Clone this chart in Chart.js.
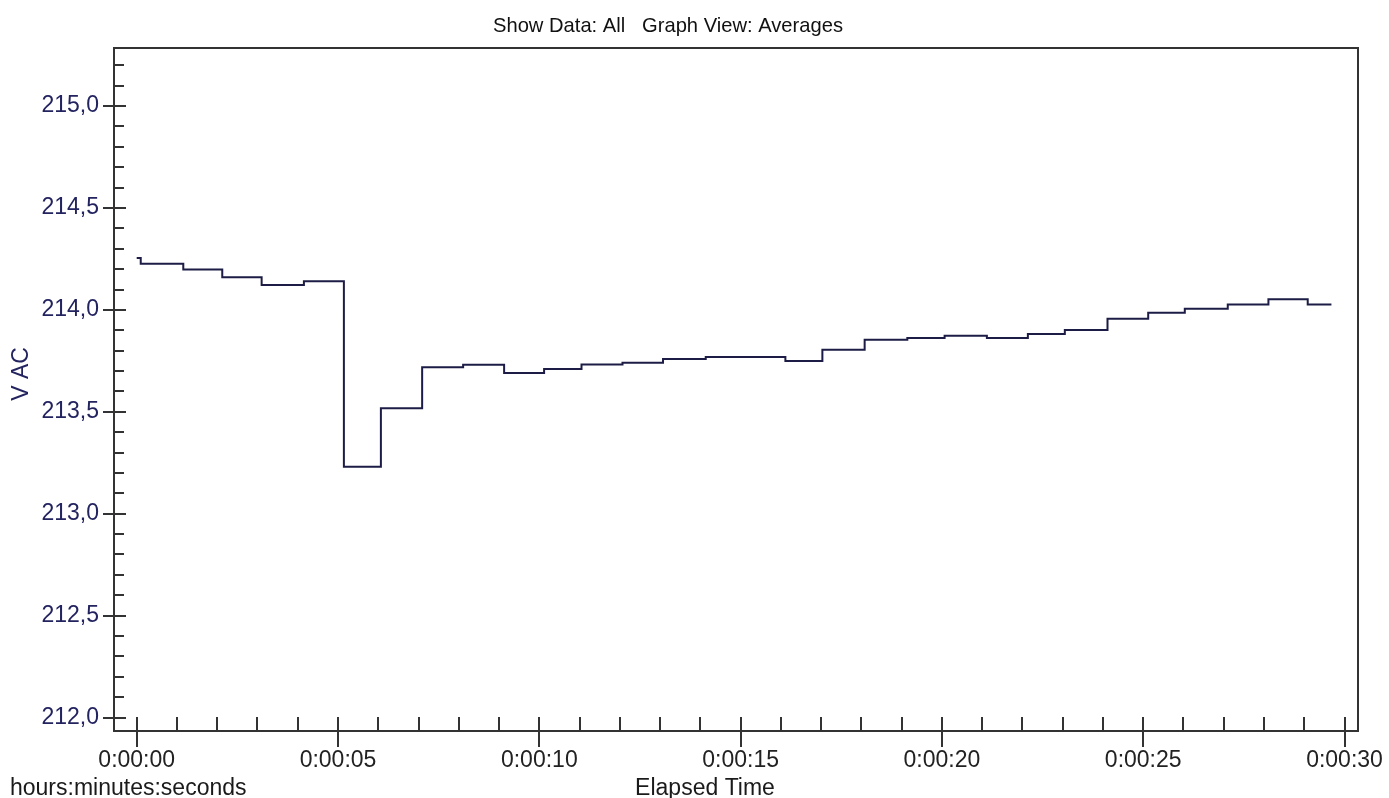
<!DOCTYPE html>
<html><head><meta charset="utf-8">
<script src="https://cdn.jsdelivr.net/npm/chart.js@4/dist/chart.umd.min.js"></script>
<style>html,body{margin:0;padding:0;background:#fff;overflow:hidden}#wrap{position:absolute;left:0;top:0;width:1389px;height:798px}</style>
</head><body><div id="wrap"><canvas id="c"></canvas></div>
<script>
const chartTitle = 'Show Data: All   Graph View: Averages';
const xAxisTitle = 'Elapsed Time';
const xUnitsNote = 'hours:minutes:seconds';
const yAxisTitle = 'V AC';

// start time (s) of each averaged step and its value (V AC)
const stepTimes = [0, 0.10, 1.157, 2.125, 3.103, 4.153, 5.146, 6.065, 7.09, 8.108, 9.126, 10.119, 11.048, 12.066, 13.073, 14.134, 16.112, 17.031, 18.081, 19.141, 20.067, 21.117, 22.135, 23.053, 24.113, 25.124, 26.033, 27.10, 28.11, 29.086, 29.675];
const stepVolts = [214.255, 214.227, 214.198, 214.160, 214.122, 214.140, 213.231, 213.518, 213.719, 213.731, 213.691, 213.710, 213.732, 213.741, 213.759, 213.769, 213.749, 213.804, 213.854, 213.862, 213.873, 213.862, 213.882, 213.901, 213.957, 213.986, 214.006, 214.026, 214.052, 214.026, 214.026];

const yMajorTicks = [212.0, 212.5, 213.0, 213.5, 214.0, 214.5, 215.0];
const xMajorTicks = [0, 5, 10, 15, 20, 25, 30];
const yRange = [211.934, 215.285];
const xRange = [-0.564, 30.335];
const yMinorStep = 0.1;
const xMinorStep = 1;

const FONT = '"Liberation Sans", Arial, Helvetica, sans-serif';
const points = stepTimes.map((t, i) => ({x: t, y: stepVolts[i]}));

function fmtTime(s) {
  const h = Math.floor(s / 3600), m = Math.floor((s % 3600) / 60), sec = Math.round(s % 60);
  return h + ':' + String(m).padStart(2, '0') + ':' + String(sec).padStart(2, '0');
}

const decor = {
  id: 'decor',
  afterDraw(chart) {
    const {ctx, chartArea: a, scales: {x, y}} = chart;
    ctx.save();
    ctx.strokeStyle = '#333';
    ctx.lineWidth = 2;
    ctx.strokeRect(a.left, a.top, a.right - a.left, a.bottom - a.top);
    ctx.beginPath();
    for (let v = yMajorTicks[0]; v <= yRange[1] + 1e-9; v += yMinorStep) {
      const py = Math.round(y.getPixelForValue(v));
      const major = yMajorTicks.some(m => Math.abs(m - v) < 1e-6);
      ctx.moveTo(major ? a.left - 11 : a.left, py);
      ctx.lineTo(major ? a.left + 12 : a.left + 10, py);
    }
    for (let t = xMajorTicks[0]; t <= xRange[1] + 1e-9; t += xMinorStep) {
      const px = Math.round(x.getPixelForValue(t));
      const major = xMajorTicks.includes(t);
      ctx.moveTo(px, a.bottom - 14);
      ctx.lineTo(px, major ? a.bottom + 16 : a.bottom);
    }
    ctx.stroke();

    ctx.textBaseline = 'alphabetic';
    ctx.font = '21px ' + FONT;
    ctx.fillStyle = '#111';
    const w = ctx.measureText(chartTitle).width;
    ctx.save();
    ctx.translate(493, 32);
    ctx.scale(350 / w, 1);
    ctx.textAlign = 'left';
    ctx.fillText(chartTitle, 0, 0);
    ctx.restore();

    ctx.font = '23px ' + FONT;
    ctx.fillStyle = '#1a1a1a';
    ctx.textAlign = 'left';
    ctx.fillText(xUnitsNote, 10, 795);
    ctx.textAlign = 'center';
    ctx.fillText(xAxisTitle, 705, 795);

    ctx.save();
    ctx.fillStyle = '#23235f';
    ctx.translate(22, 374);
    ctx.rotate(-Math.PI / 2);
    ctx.textAlign = 'center';
    ctx.textBaseline = 'middle';
    ctx.fillText(yAxisTitle, 0, 0);
    ctx.restore();
    ctx.restore();
  }
};

new Chart(document.getElementById('c'), {
  type: 'line',
  data: {
    datasets: [{
      data: points,
      stepped: true,
      borderColor: '#1c1c46',
      borderWidth: 2,
      pointRadius: 0,
      fill: false
    }]
  },
  options: {
    responsive: true,
    maintainAspectRatio: false,
    animation: false,
    devicePixelRatio: 1,
    layout: {padding: {left: 0, top: 48, right: 31, bottom: 0}},
    plugins: {legend: {display: false}, tooltip: {enabled: false}, title: {display: false}},
    scales: {
      x: {
        type: 'linear',
        position: 'bottom',
        min: xRange[0],
        max: xRange[1],
        afterBuildTicks: s => { s.ticks = xMajorTicks.map(v => ({value: v})); },
        afterFit: s => { s.height = 67; s.paddingLeft = 0; s.paddingRight = 0; },
        grid: {display: false, drawTicks: false},
        border: {display: false},
        ticks: {
          callback: v => fmtTime(v),
          font: {family: FONT, size: 23},
          color: '#222',
          padding: 16,
          maxRotation: 0,
          autoSkip: false
        }
      },
      y: {
        type: 'linear',
        min: yRange[0],
        max: yRange[1],
        afterBuildTicks: s => { s.ticks = yMajorTicks.map(v => ({value: v})); },
        afterFit: s => { s.width = 114; s.paddingTop = 0; s.paddingBottom = 0; },
        grid: {display: false, drawTicks: false},
        border: {display: false},
        ticks: {
          callback: v => v.toFixed(1).replace('.', ','),
          font: {family: FONT, size: 23},
          color: '#23235f',
          padding: 15
        }
      }
    }
  },
  plugins: [decor]
});
</script>
</body></html>
